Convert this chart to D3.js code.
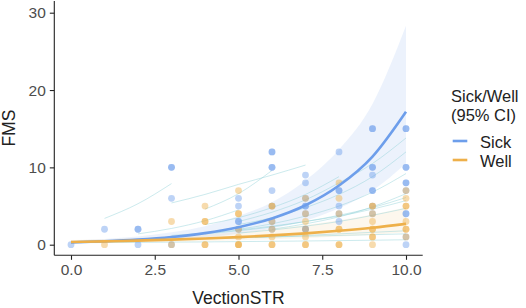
<!DOCTYPE html>
<html><head><meta charset="utf-8">
<script src="https://cdn.jsdelivr.net/npm/d3@7"></script>
<style>body{margin:0;background:#fff}svg{display:block}text{font-family:"Liberation Sans",Arial,sans-serif}</style>
</head><body>
<svg id="c" width="526" height="308"></svg>
<script>
// ---- data ----
const xTicks = [0, 2.5, 5, 7.5, 10];
const yTicks = [0, 10, 20, 30];
const fitX = [0,1,2,3,4,5,6,7,8,9,10];
const sickFit   = [0.3, 0.45, 0.67, 1.0, 1.5, 2.27, 3.4, 5.1, 7.65, 11.4, 17.2];
const sickUpper = [0.55, 0.75, 1.05, 1.6, 2.4, 3.7, 5.5, 8.3, 12.3, 18.2, 28.3];
const sickLower = [0.17, 0.28, 0.42, 0.63, 0.95, 1.4, 2.1, 3.1, 4.7, 7.0, 10.5];
const wellFit   = [0.35, 0.43, 0.53, 0.65, 0.8, 0.98, 1.2, 1.47, 1.8, 2.2, 2.7];
const wellUpper = [0.6, 0.72, 0.88, 1.1, 1.35, 1.65, 2.05, 2.55, 3.15, 3.9, 4.8];
const wellLower = [0.2, 0.25, 0.31, 0.38, 0.46, 0.57, 0.7, 0.85, 1.05, 1.3, 1.6];
const sickPts = [[0,0],[1,2],[2,0],[2,2],[2,2],[3,0],[3,6],[3,10],[3,10],
 [5,6],[5,5],[5,3],[5,3],[5,2],
 [6,12],[6,12],[6,10],[6,10],[6,7],[6,5],[6,3],[6,2],
 [7,9],[7,8],[7,6],[7,5],[7,5],[7,4],[7,2],[7,2],
 [8,12],[8,7],[8,7],[8,5],[8,4],[8,3],
 [9,15],[9,15],[9,10],[9,10],[9,9],[9,7],[9,7],[9,5],[9,4],
 [10,15],[10,15],[10,10],[10,10],[10,8],[10,8],[10,7],[10,4],[10,4],[10,1],[10,0]];
const wellPts = [[1,0],[3,0],[3,3],[4,0],[4,0],[4,3],[4,3],[4,5],
 [5,7],[5,4],[5,4],[5,2],[5,1],[5,0],[5,0],[5,0],
 [6,5],[6,5],[6,3],[6,2],[6,1],[6,0],[6,0],
 [7,6],[7,4],[7,3],[7,2],[7,1],[7,0],[7,0],
 [8,8],[8,6],[8,4],[8,2],[8,2],[8,0],[8,0],
 [9,5],[9,5],[9,4],[9,3],[9,2],[9,2],[9,1],[9,1],[9,0],
 [10,7],[10,6],[10,5],[10,5],[10,3],[10,2],[10,2],[10,1]];
const indivStart = [1,2,3,4,4,5,5,5,6,4,0,2,5,0,3];
const indivVals = [
 [3.4,5.3,7.9],
 [1.4,2.1,3.1,4.5],
 [5.4,6.5,7.8,9.0,10.3],
 [4.6,6.6,9.6],
 [2.6,3.5,4.8,6.5,8.8],
 [3.0,4.2,5.8,8.0,10.5,13.8],
 [2.6,3.5,4.8,6.5,8.8,12.0],
 [2.0,2.7,3.7,5.0,6.8,9.2],
 [2.0,2.7,3.6,4.9,6.6],
 [1.4,1.8,2.3,3.0,3.8,4.8,6.1],
 [0.4,0.5,0.6,0.7,0.8,0.9,1.0,1.2,1.4,1.6,1.8],
 [0.6,0.7,0.8,0.9,1.0,1.1,1.2,1.3,1.4],
 [1.5,1.9,2.4,3.0,3.8,4.7],
 [0.25,0.28,0.3,0.33,0.36,0.4,0.44,0.48,0.53,0.58,0.64],
 [1.2,1.5,1.9,2.4,3.0,3.7,4.6,5.7]];
const groups = ["Sick","Well"];
const colors = ["#6d9eeb","#eeb04a"];

// ---- chart ----
const svg = d3.select("#c");
const x = d3.scaleLinear().domain([0,10]).range([71,406]);
const y = d3.scaleLinear().domain([0,30]).range([244.7,12.7]);
const panel = {l:54.3, r:422.7, t:1, b:255.3};
const color = d3.scaleOrdinal().domain(groups).range(colors);

const g = svg.append("g");
const band = (lo, hi) => d3.area().x((d,i)=>x(fitX[i])).y0((d,i)=>y(lo[i])).y1((d,i)=>y(hi[i])).curve(d3.curveMonotoneX);
const line = d3.line().x(d=>x(d[0])).y(d=>y(d[1])).curve(d3.curveMonotoneX);

g.append("path").attr("d", band(sickLower, sickUpper)(fitX)).attr("fill", color("Sick")).attr("fill-opacity",0.13);
g.append("path").attr("d", band(wellLower, wellUpper)(fitX)).attr("fill", color("Well")).attr("fill-opacity",0.1);

indivVals.forEach((vals,k)=>{
  const pts = vals.map((v,i)=>[indivStart[k]+i, v]);
  g.append("path").attr("d", line(pts)).attr("fill","none").attr("stroke","#8fd0d8").attr("stroke-opacity",0.45).attr("stroke-width",1);
});

g.append("g").selectAll("circle").data(sickPts).join("circle")
  .attr("cx",d=>x(d[0])).attr("cy",d=>y(d[1])).attr("r",3.4).attr("fill",color("Sick")).attr("fill-opacity",0.45);
g.append("g").selectAll("circle").data(wellPts).join("circle")
  .attr("cx",d=>x(d[0])).attr("cy",d=>y(d[1])).attr("r",3.4).attr("fill",color("Well")).attr("fill-opacity",0.45);

g.append("path").attr("d", line(fitX.map((v,i)=>[v, sickFit[i]]))).attr("fill","none").attr("stroke",color("Sick")).attr("stroke-width",2.6);
g.append("path").attr("d", line(fitX.map((v,i)=>[v, wellFit[i]]))).attr("fill","none").attr("stroke",color("Well")).attr("stroke-width",2.6);

// axes
const xa = svg.append("g").attr("transform",`translate(0,${panel.b})`)
  .call(d3.axisBottom(x).tickValues(xTicks).tickFormat(d3.format(".1f")).tickSizeOuter(0).tickSize(4.5).tickPadding(4));
xa.select(".domain").attr("d",`M${panel.l},0H${panel.r}`);
const ya = svg.append("g").attr("transform",`translate(${panel.l},0)`)
  .call(d3.axisLeft(y).tickValues(yTicks).tickSizeOuter(0).tickSize(4.5).tickPadding(4));
ya.select(".domain").attr("d",`M0,${panel.t}V${panel.b}`);
[xa,ya].forEach(a=>{
  a.selectAll(".domain,.tick line").attr("stroke","#222").attr("stroke-width",1.1);
  a.selectAll("text").attr("fill","#4d4d4d").attr("font-size",15.5).attr("font-family","Liberation Sans, Arial, sans-serif");
});

svg.append("text").attr("x",(panel.l+panel.r)/2).attr("y",304).attr("text-anchor","middle").attr("font-size",17.5).attr("fill","#222").text("VectionSTR");
svg.append("text").attr("transform",`translate(15,${(panel.t+panel.b)/2}) rotate(-90)`).attr("text-anchor","middle").attr("font-size",17.5).attr("fill","#222").text("FMS");

// legend
const lg = svg.append("g");
lg.append("text").attr("x",451).attr("y",101.5).attr("font-size",16.5).attr("fill","#222").text("Sick/Well");
lg.append("text").attr("x",451).attr("y",121).attr("font-size",16.5).attr("fill","#222").text("(95% CI)");
groups.forEach((k,i)=>{
  const yy = 141 + i*19;
  lg.append("line").attr("x1",452.7).attr("x2",467.3).attr("y1",yy).attr("y2",yy).attr("stroke",color(k)).attr("stroke-width",2.6);
  lg.append("text").attr("x",480).attr("y",yy+6.5).attr("font-size",16.5).attr("fill","#222").text(k);
});
</script>
</body></html>
